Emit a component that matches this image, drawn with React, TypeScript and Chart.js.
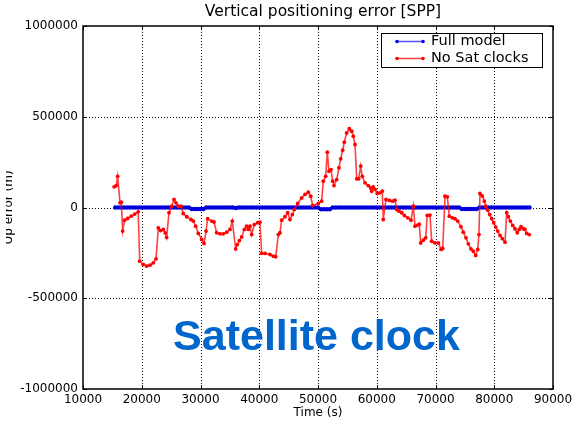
import React, { useEffect, useRef } from "react";
import { Chart, registerables } from "chart.js";

Chart.register(...registerables);

const TITLE = "Vertical positioning error [SPP]";
const X_LABEL = "Time (s)";
const Y_LABEL = "Up error (m)";
const OVERLAY = "Satellite clock";
const SERIES_NAMES = ["Full model", "No Sat clocks"];

const xTicks = [10000, 20000, 30000, 40000, 50000, 60000, 70000, 80000, 90000];
const yTicks = [-1000000, -500000, 0, 500000, 1000000];

const fullModelTime = [
  15500, 16000, 16500, 17000, 17500, 18000, 18500, 19000, 19500,
  20000, 20500, 21000, 21500, 22000, 22500, 23000, 23500, 24000, 24500,
  25000, 25500, 26000, 26500, 27000, 27500, 28000, 28500, 29000, 29500,
  30000, 30500, 31000, 31500, 32000, 32500, 33000, 33500, 34000, 34500,
  35000, 35500, 36000, 36500, 37000, 37500, 38000, 38500, 39000, 39500,
  40000, 40500, 41000, 41500, 42000, 42500, 43000, 43500, 44000, 44500,
  45000, 45500, 46000, 46500, 47000, 47500, 48000, 48500, 49000, 49500,
  50000, 50500, 51000, 51500, 52000, 52500, 53000, 53500, 54000, 54500,
  55000, 55500, 56000, 56500, 57000, 57500, 58000, 58500, 59000, 59500,
  60000, 60500, 61000, 61500, 62000, 62500, 63000, 63500, 64000, 64500,
  65000, 65500, 66000, 66500, 67000, 67500, 68000, 68500, 69000, 69500,
  70000, 70500, 71000, 71500, 72000, 72500, 73000, 73500, 74000, 74500,
  75000, 75500, 76000, 76500, 77000, 77500, 78000, 78500, 79000, 79500,
  80000, 80500, 81000, 81500, 82000, 82500, 83000, 83500, 84000, 84500,
  85000, 85500, 86000,
];
const fullModelErr = [
  0, 0, 0, 0, 0, 0, 0, 0, 0,
  0, 0, 0, 0, 0, 0, 0, 0, 0, 0,
  0, 0, 0, 0, 0, 0, 0, -8000, -8000, -8000,
  -8000, -8000, 0, 0, 0, 0, 0, 0, 0, 0,
  0, 0, -3000, 0, 0, 0, 0, 0, 0, 0,
  0, 0, 0, 0, 0, 0, 0, 0, 0, 0,
  0, 0, 0, 0, 0, 0, 0, 0, 0, 0,
  0, -10000, -10000, -10000, -10000, 0, 0, 0, 0, 0,
  0, 0, 0, 0, 0, 0, 0, 0, 0, 0,
  0, 0, 0, 0, 0, 0, 0, 0, 0, 0,
  0, 0, 0, 0, 0, 0, 0, 0, 0, 0,
  0, 0, 0, 0, 0, 0, 0, 0, 0, -8000,
  -8000, -8000, -8000, -8000, -8000, 0, 0, 0, 0, 0,
  0, 0, 0, 0, 0, 0, 0, 0, 0, 0,
  0, 0, 0,
];

const noSatClockTime = [
  15300, 15650, 15900, 16300, 16520, 16750, 17090, 17600, 18200, 18800,
  19400, 19650, 20260, 20840, 21400, 21970, 22430, 22820, 23220, 23670,
  24000, 24240, 24640, 25090, 25490, 25830, 26220, 26680, 27070, 27650,
  28380, 28780, 29180, 29630, 30200, 30600, 30940, 31220, 31900, 32300,
  32750, 33320, 33880, 34460, 35020, 35410, 35990, 36260, 36610, 37010,
  37460, 37860, 38140, 38430, 38710, 39160, 39730, 40120, 40410, 40980,
  41830, 42400, 42800, 43250, 43530, 43820, 44380, 44840, 45230, 45630,
  45960, 46540, 47220, 47790, 48340, 48750, 49090, 50050, 50620, 50900,
  51310, 51580, 51870, 52210, 52500, 52720, 53180, 53570, 53860, 54200,
  54480, 54880, 55330, 55740, 56010, 56300, 56590, 56930, 57270, 57540,
  58000, 58560, 58970, 59140, 59410, 59700, 60090, 60550, 60940, 61110,
  61570, 62140, 62700, 63110, 63400, 63790, 64250, 64700, 65270, 65830,
  66230, 66510, 66970, 67230, 67480, 67930, 68330, 68600, 69060, 69350,
  69910, 70480, 70940, 71230, 71620, 72010, 72350, 72860, 73320, 73780,
  74340, 74730, 75190, 75590, 76040, 76440, 76840, 77180, 77400, 77570,
  77970, 78310, 78550, 78890, 79230, 79570, 79910, 80250, 80590, 80980,
  81370, 81830, 82120, 82400, 82740, 83140, 83530, 83930, 84260, 84550,
  84950, 85230, 85520, 85960,
];
const noSatClockErr = [
  114000, 121000, 172000, 26000, 29000, -130000, -70000, -60000, -48000, -36000,
  -24000, -296000, -314000, -323000, -318000, -305000, -283000, -112000, -127000, -121000,
  -140000, -165000, -29000, 7000, 44000, 26000, 7000, 7000, -33000, -51000,
  -66000, -75000, -103000, -143000, -176000, -198000, -130000, -62000, -75000, -80000,
  -139000, -145000, -145000, -136000, -121000, -75000, -228000, -204000, -182000, -162000,
  -121000, -103000, -121000, -103000, -149000, -94000, -84000, -81000, -253000, -253000,
  -259000, -268000, -272000, -149000, -139000, -70000, -51000, -29000, -66000, -39000,
  -11000, 22000, 53000, 72000, 84000, 62000, 11000, 22000, 35000, 145000,
  172000, 305000, 200000, 209000, 145000, 121000, 154000, 219000, 268000, 316000,
  360000, 411000, 434000, 420000, 393000, 347000, 158000, 158000, 228000, 172000,
  136000, 121000, 108000, 90000, 114000, 100000, 77000, 81000, 90000, -66000,
  44000, 39000, 35000, 40000, -11000, -20000, -29000, -44000, -57000, -70000,
  7000, -103000, -97000, -92000, -195000, -180000, -167000, -44000, -42000, -186000,
  -195000, -195000, -231000, -226000, 62000, 59000, -48000, -57000, -62000, -75000,
  -106000, -136000, -167000, -200000, -228000, -241000, -264000, -231000, -149000, 77000,
  64000, 35000, 7000, -15000, -39000, -62000, -84000, -108000, -130000, -154000,
  -172000, -191000, -29000, -51000, -75000, -99000, -117000, -139000, -121000, -106000,
  -117000, -121000, -143000, -149000,
];

const FONT = "'DejaVu Sans', sans-serif";
const BLUE_LINE = "rgba(40,40,255,0.8)";
const BLUE_PT = "#0000ff";
const RED_LINE = "rgba(255,0,0,0.75)";
const RED_PT = "#ff0000";

const decor = {
  id: "decor",
  beforeDraw(chart: any) {
    const { ctx, width, height } = chart;
    ctx.save();
    ctx.fillStyle = "#ffffff";
    ctx.fillRect(0, 0, width, height);
    ctx.restore();
  },
  beforeDatasetsDraw(chart: any) {
    const { ctx, chartArea: a } = chart;
    const xs = chart.scales.x;
    const ys = chart.scales.y;
    ctx.save();
    ctx.strokeStyle = "#000000";
    ctx.lineWidth = 1;
    ctx.setLineDash([1, 2]);
    for (const v of xTicks) {
      const px = Math.round(xs.getPixelForValue(v)) + 0.5;
      if (px <= a.left + 2 || px >= a.right - 2) continue;
      ctx.beginPath();
      ctx.moveTo(px, a.top);
      ctx.lineTo(px, a.bottom);
      ctx.stroke();
    }
    for (const v of yTicks) {
      const py = Math.round(ys.getPixelForValue(v)) + 0.5;
      if (py <= a.top + 2 || py >= a.bottom - 2) continue;
      ctx.beginPath();
      ctx.moveTo(a.left, py);
      ctx.lineTo(a.right, py);
      ctx.stroke();
    }
    ctx.restore();
  },
  afterDatasetsDraw(chart: any) {
    const { ctx, chartArea: a } = chart;
    const xs = chart.scales.x;
    const ys = chart.scales.y;
    ctx.save();
    // tick marks (inward, all four sides)
    ctx.strokeStyle = "#000000";
    ctx.lineWidth = 1;
    ctx.setLineDash([]);
    for (const v of xTicks) {
      const px = Math.round(xs.getPixelForValue(v)) + 0.5;
      ctx.beginPath();
      ctx.moveTo(px, a.bottom);
      ctx.lineTo(px, a.bottom - 4);
      ctx.moveTo(px, a.top);
      ctx.lineTo(px, a.top + 4);
      ctx.stroke();
    }
    for (const v of yTicks) {
      const py = Math.round(ys.getPixelForValue(v)) + 0.5;
      ctx.beginPath();
      ctx.moveTo(a.left, py);
      ctx.lineTo(a.left + 4, py);
      ctx.moveTo(a.right, py);
      ctx.lineTo(a.right - 4, py);
      ctx.stroke();
    }
    // frame
    ctx.lineWidth = 1.5;
    ctx.strokeRect(a.left, a.top, a.right - a.left, a.bottom - a.top);

    // tick labels
    ctx.fillStyle = "#000000";
    ctx.font = `12px ${FONT}`;
    ctx.textAlign = "center";
    ctx.textBaseline = "alphabetic";
    for (const v of xTicks) {
      const px = xs.getPixelForValue(v);
      ctx.fillText(String(v), px, a.bottom + 14);
    }
    ctx.textAlign = "right";
    ctx.textBaseline = "middle";
    for (const v of yTicks) {
      const py = ys.getPixelForValue(v);
      ctx.fillText(String(v), a.left - 5, py);
    }
    // x axis title
    ctx.textAlign = "center";
    ctx.textBaseline = "alphabetic";
    ctx.fillText(X_LABEL, (a.left + a.right) / 2, a.bottom + 27);
    // y axis title (partly cut off at left)
    ctx.save();
    ctx.beginPath();
    ctx.rect(6, 0, 40, chart.height);
    ctx.clip();
    ctx.translate(12, (a.top + a.bottom) / 2);
    ctx.rotate(-Math.PI / 2);
    ctx.textAlign = "center";
    ctx.textBaseline = "alphabetic";
    ctx.font = `12px ${FONT}`;
    ctx.fillText(Y_LABEL, 0, 0);
    ctx.restore();
    // title
    ctx.font = `15.5px ${FONT}`;
    ctx.textAlign = "center";
    ctx.textBaseline = "middle";
    ctx.fillText(TITLE, (a.left + a.right) / 2 + 5, 12);

    // legend
    const lx = 381.5, ly = 33.5, lw = 161, lh = 34;
    ctx.fillStyle = "#ffffff";
    ctx.fillRect(lx, ly, lw, lh);
    ctx.strokeStyle = "#000000";
    ctx.lineWidth = 1;
    ctx.strokeRect(lx, ly, lw, lh);
    const entries = [
      { name: SERIES_NAMES[0], line: BLUE_LINE, pt: BLUE_PT, y: 41.5 },
      { name: SERIES_NAMES[1], line: RED_LINE, pt: RED_PT, y: 58.5 },
    ];
    for (const e of entries) {
      ctx.strokeStyle = e.line;
      ctx.lineWidth = 1.5;
      ctx.beginPath();
      ctx.moveTo(397, e.y);
      ctx.lineTo(423, e.y);
      ctx.stroke();
      ctx.fillStyle = e.pt;
      for (const px of [397, 423]) {
        ctx.beginPath();
        ctx.arc(px, e.y, 1.8, 0, Math.PI * 2);
        ctx.fill();
      }
      ctx.fillStyle = "#000000";
      ctx.font = `14.5px ${FONT}`;
      ctx.textAlign = "left";
      ctx.textBaseline = "middle";
      ctx.fillText(e.name, 431, e.y);
    }

    // overlay annotation
    ctx.fillStyle = "#0066cc";
    ctx.font = `bold 43px 'Liberation Sans', Arial, sans-serif`;
    ctx.textAlign = "center";
    ctx.textBaseline = "alphabetic";
    ctx.fillText(OVERLAY, 316.5, 350);
    ctx.restore();
  },
};

export default function App() {
  const ref = useRef<HTMLCanvasElement | null>(null);
  useEffect(() => {
    if (!ref.current) return;
    const fullData = fullModelTime.map((t, i) => ({ x: t, y: fullModelErr[i] }));
    const redData = noSatClockTime.map((t, i) => ({ x: t, y: noSatClockErr[i] }));
    const chart = new Chart(ref.current, {
      type: "line",
      data: {
        datasets: [
          {
            label: SERIES_NAMES[1],
            data: redData,
            borderColor: RED_LINE,
            borderWidth: 1.6,
            pointRadius: 1.9,
            pointBackgroundColor: RED_PT,
            pointBorderWidth: 0,
            tension: 0,
            order: 0,
          },
          {
            label: SERIES_NAMES[0],
            data: fullData,
            borderColor: BLUE_LINE,
            borderWidth: 3,
            pointRadius: 2.2,
            pointBackgroundColor: "#0000dd",
            pointBorderWidth: 0,
            tension: 0,
            order: 1,
          },
        ],
      },
      options: {
        animation: false,
        responsive: false,
        devicePixelRatio: 1,
        layout: { padding: { left: 83, top: 26, right: 25, bottom: 36 } },
        plugins: { legend: { display: false }, title: { display: false }, tooltip: { enabled: false } },
        scales: {
          x: { type: "linear", min: 10000, max: 90000, display: false },
          y: { type: "linear", min: -1000000, max: 1000000, display: false },
        },
      },
      plugins: [decor],
    });
    return () => chart.destroy();
  }, []);
  return (
    <div style={{ position: "fixed", left: 0, top: 0, width: 578, height: 425, background: "#fff" }}>
      <canvas ref={ref} width={578} height={425} style={{ width: 578, height: 425 }} />
    </div>
  );
}
